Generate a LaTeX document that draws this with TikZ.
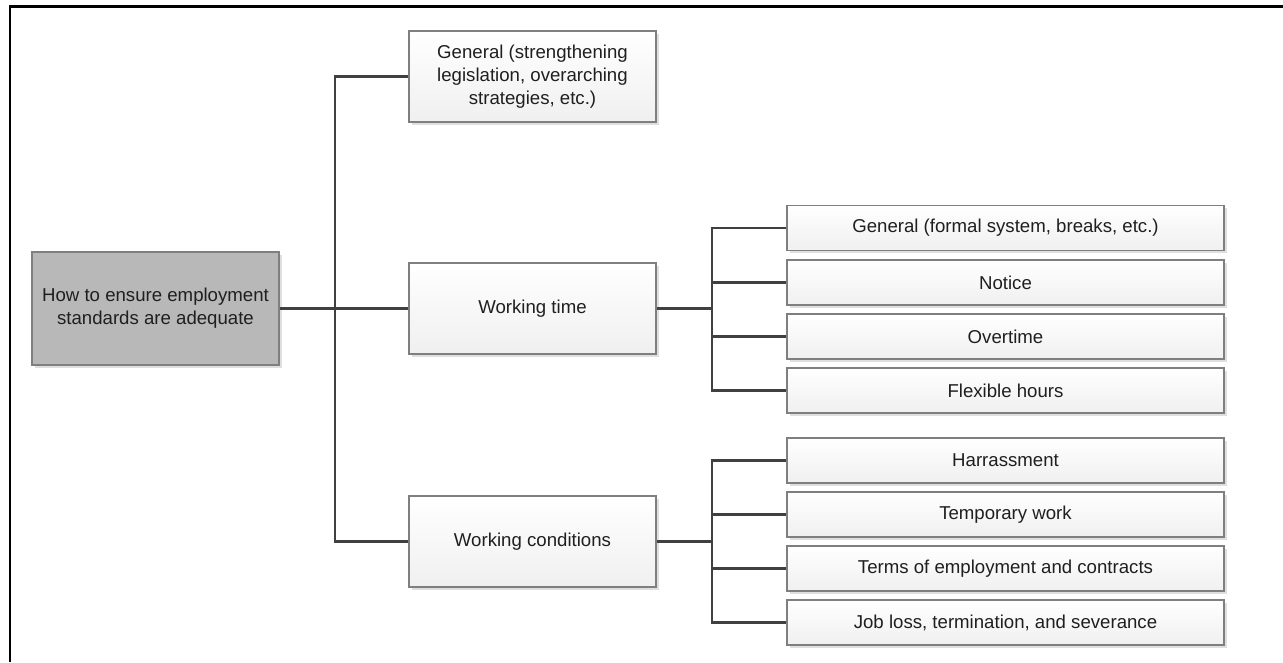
\documentclass[tikz,border=0pt]{standalone}
\usepackage{fontspec}
\setmainfont{Liberation Sans}
\usetikzlibrary{positioning,shadows}

\definecolor{linkgray}{HTML}{404040}
\definecolor{boxline}{HTML}{7F7F7F}
\definecolor{rootfill}{HTML}{B8B8B8}

\begin{document}
\begin{tikzpicture}[
  topic/.style={rectangle, draw=boxline, line width=0.6pt, top color=white, bottom color=gray!12,
    drop shadow={shadow xshift=1.6pt, shadow yshift=-1.6pt, fill=gray!35, opacity=0.7},
    align=center, font=\fontsize{10.6}{13}\selectfont, text=black!88, inner sep=2pt},
  root/.style={topic, fill=rootfill, top color=rootfill, bottom color=rootfill, minimum width=4.94cm, minimum height=2.26cm},
  branch/.style={topic, minimum width=4.94cm, minimum height=1.82cm},
  leaf/.style={topic, minimum width=8.74cm, minimum height=0.9cm},
  link/.style={draw=linkgray, line width=1.2pt}
]
\useasboundingbox (0,0) rectangle (25.66,-13.24);

% frame
\draw[line width=1.7pt] (0.2,-13.24) -- (0.2,-0.13) -- (25.66,-0.13);

% Root
\node[root] (Root) at (3.11,-6.17) {How to ensure employment\\standards are adequate};

% Level 1
\node[branch] (General) at (10.65,-1.53) {General (strengthening\\legislation, overarching\\strategies, etc.)};
\node[branch] (WorkTime) at (10.65,-6.17) {Working time};
\node[branch] (WorkCond) at (10.65,-10.83) {Working conditions};

% Level 2 - Working time
\node[leaf] (TimeGeneral) at (20.11,-4.56) {General (formal system, breaks, etc.)};
\node[leaf] (Notice) at (20.11,-5.65) {Notice};
\node[leaf] (Overtime) at (20.11,-6.73) {Overtime};
\node[leaf] (Flexible) at (20.11,-7.81) {Flexible hours};

% Level 2 - Working conditions
\node[leaf] (Harass) at (20.11,-9.21) {Harrassment};
\node[leaf] (Temporary) at (20.11,-10.29) {Temporary work};
\node[leaf] (Terms) at (20.11,-11.37) {Terms of employment and contracts};
\node[leaf] (JobLoss) at (20.11,-12.45) {Job loss, termination, and severance};

% junctions
\coordinate (TrunkA) at (6.70,-6.17);
\coordinate (TrunkB) at (14.24,-6.17);
\coordinate (TrunkC) at (14.24,-10.83);

% Root -> Level 1
\draw[link] (Root.east) -- (WorkTime.west);
\draw[link] (General.west) -| (TrunkA) |- (WorkCond.west);

% Working time -> leaves
\draw[link] (WorkTime.east) -- (TrunkB);
\draw[link] (TimeGeneral.west) -| (TrunkB) |- (Flexible.west);
\draw[link] (TrunkB) |- (Notice.west);
\draw[link] (TrunkB) |- (Overtime.west);

% Working conditions -> leaves
\draw[link] (WorkCond.east) -- (TrunkC);
\draw[link] (Harass.west) -| (TrunkC) |- (JobLoss.west);
\draw[link] (TrunkC) |- (Temporary.west);
\draw[link] (TrunkC) |- (Terms.west);

\end{tikzpicture}
\end{document}
